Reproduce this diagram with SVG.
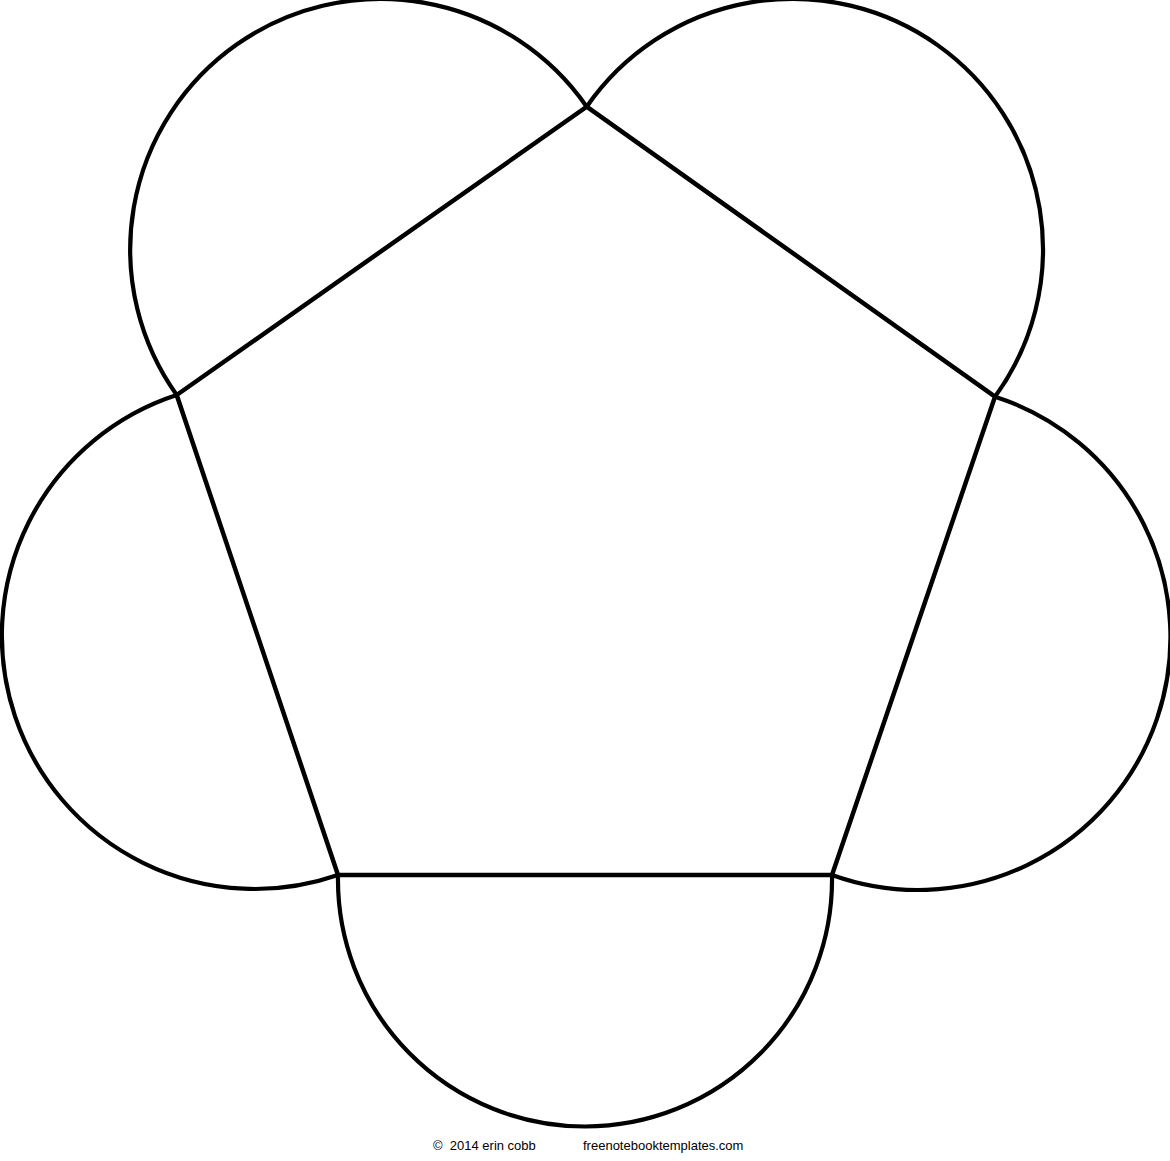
<svg xmlns="http://www.w3.org/2000/svg" width="1170" height="1161" viewBox="0 0 1170 1161">
<style>
.arc{fill:none;stroke:#000;stroke-width:4.2}
.pent{fill:none;stroke:#000;stroke-width:4.5;stroke-linejoin:miter}
.t{font-family:"Liberation Sans",Arial,sans-serif;font-size:13px;fill:#000}
</style>
<rect width="1170" height="1161" fill="#fff"/>
<g id="arcs">
<path class="arc" d="M586.7 106.7 A250.422 250.422 0 1 1 995 396.7"/>
<path class="arc" d="M995 396.7 A252.696 252.696 0 1 1 832 875"/>
<path class="arc" d="M832 875 A247.04 247.04 0 1 1 338 875"/>
<path class="arc" d="M338 875 A253.2 253.2 0 1 1 176.7 395"/>
<path class="arc" d="M176.7 395 A250.6125 250.6125 0 1 1 586.7 106.7"/>
</g>
<g id="pentagon">
<polygon class="pent" points="586.7,106.7 995,396.7 832,875 338,875 176.7,395"/>
</g>
<g id="footer">
<text class="t" x="433" y="1150" xml:space="preserve">©  2014 erin cobb</text>
<text class="t" x="583" y="1150">freenotebooktemplates.com</text>
</g>
</svg>
